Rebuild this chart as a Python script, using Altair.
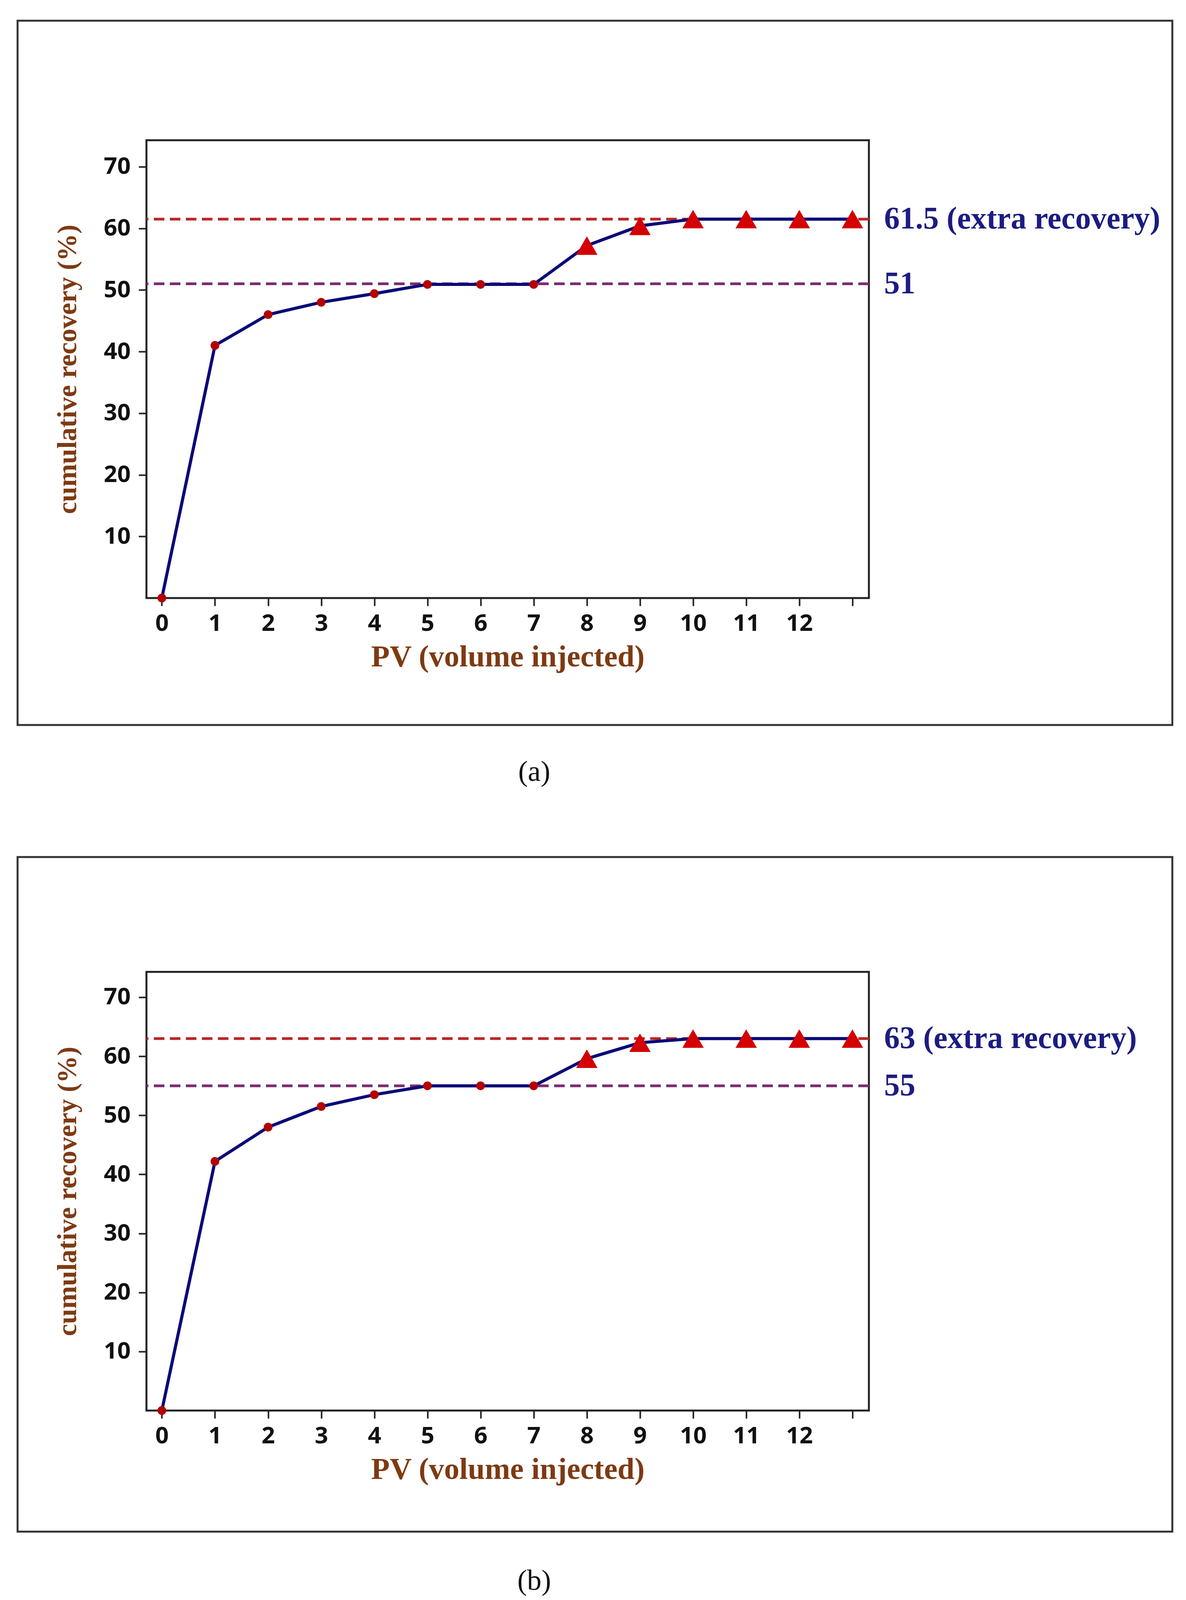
import altair as alt
import pandas as pd

# ---- data ----
pv = [0, 1, 2, 3, 4, 5, 6, 7, 8, 9, 10, 11, 12, 13]
marker = ["circle", "circle", "circle", "circle", "circle", "circle", "circle", "circle",
          "triangle", "triangle", "triangle", "triangle", "triangle", "triangle"]
rec_a = [0, 41.0, 46.0, 48.0, 49.4, 50.9, 50.9, 50.9, 57.2, 60.4, 61.5, 61.5, 61.5, 61.5]
rec_b = [0, 42.2, 48.0, 51.5, 53.5, 55.0, 55.0, 55.0, 59.6, 62.3, 63.0, 63.0, 63.0, 63.0]
ref_a = [61.5, 51]
ref_b = [63, 55]
ref_kind = ["extra", "base"]
ref_text_a = ["61.5 (extra recovery)", "51"]
ref_text_b = ["63 (extra recovery)", "55"]
y_ticks = [10, 20, 30, 40, 50, 60, 70]
captions = ["(a)", "(b)"]

NAVY = "#0a0a78"
LABEL_NAVY = "#1c1c82"
BROWN = "#7e3a12"
RED_DASH = "#bb2626"
PURPLE_DASH = "#7d2c72"

PLOT_W = 1850


def panel(rec, refs, ref_text, caption, h, box_top, box_bottom, cap_y):
    df = pd.DataFrame({"pv": pv, "rec": rec, "marker": marker})
    rdf = pd.DataFrame({"rec": refs, "kind": ref_kind, "txt": ref_text})
    xs = alt.Scale(domain=[-0.29, 13.31], nice=False, zero=False)
    ys = alt.Scale(domain=[0, 74.3], nice=False, zero=False)
    x = alt.X("pv:Q", scale=xs,
              axis=alt.Axis(values=pv, labelExpr="datum.value == 13 ? '' : datum.label",
                            title="PV (volume injected)"))
    y = alt.Y("rec:Q", scale=ys,
              axis=alt.Axis(values=y_ticks, title="cumulative recovery (%)"))

    frame = alt.Chart(pd.DataFrame({"k": [0]})).mark_rect(
        fillOpacity=0, stroke="#333333", strokeWidth=5
    ).encode(x=alt.value(-330), x2=alt.value(2627), y=alt.value(box_top), y2=alt.value(box_bottom))

    cap = alt.Chart(pd.DataFrame({"t": [caption]})).mark_text(
        font="Liberation Serif", fontSize=74, color="#111111", baseline="middle", align="center"
    ).encode(x=alt.value(993), y=alt.value(cap_y), text="t:N")

    rules = alt.Chart(rdf).mark_rule(strokeDash=[27, 14], strokeWidth=7).encode(
        y=alt.Y("rec:Q", scale=ys, title="cumulative recovery (%)"),
        color=alt.Color("kind:N", scale=alt.Scale(domain=ref_kind, range=[RED_DASH, PURPLE_DASH]),
                        legend=None),
    )
    ref_labels = alt.Chart(rdf).mark_text(
        font="Liberation Serif", fontWeight="bold", fontSize=80, color=LABEL_NAVY,
        align="left", baseline="middle"
    ).encode(y=alt.Y("rec:Q", scale=ys, title="cumulative recovery (%)"),
             x=alt.value(1889), text="txt:N")

    line = alt.Chart(df).mark_line(color=NAVY, strokeWidth=8).encode(x=x, y=y)
    dots = alt.Chart(df).transform_filter("datum.marker == 'circle'").mark_point(
        shape="circle", filled=True, size=500, color="#b30000", opacity=1
    ).encode(x=x, y=y)
    tris = alt.Chart(df).transform_filter("datum.marker == 'triangle'").mark_point(
        shape="triangle-up", filled=True, size=3000, color="#d40000", opacity=1
    ).encode(x=x, y=y)

    return alt.layer(frame, cap, rules, line, dots, tris, ref_labels).properties(
        width=PLOT_W, height=h
    )


pa = panel(rec_a, ref_a, ref_text_a, captions[0], 1172, -306, 1497, 1618)
pb = panel(rec_b, ref_b, ref_text_b, captions[1], 1123, -294, 1433, 1560)

chart = alt.vconcat(pa, pb, spacing=172).properties(
    padding={"left": 32, "top": 40, "right": 10, "bottom": 10},
    background="white",
).configure_view(
    stroke="#222222", strokeWidth=5
).configure_axis(
    domain=False, grid=False,
    tickColor="#222222", tickWidth=4, tickSize=20,
    labelFont="Noto Sans", labelFontWeight="bold", labelFontSize=60, labelColor="#111111",
    titleFont="Liberation Serif", titleFontWeight="bold", titleColor=BROWN,
).configure_axisY(
    labelPadding=21, titlePadding=56, titleFontSize=70
).configure_axisX(
    labelPadding=16, titlePadding=17, titleFontSize=78
)

chart.save("out.html", embed_options={"renderer": "svg", "actions": False})
